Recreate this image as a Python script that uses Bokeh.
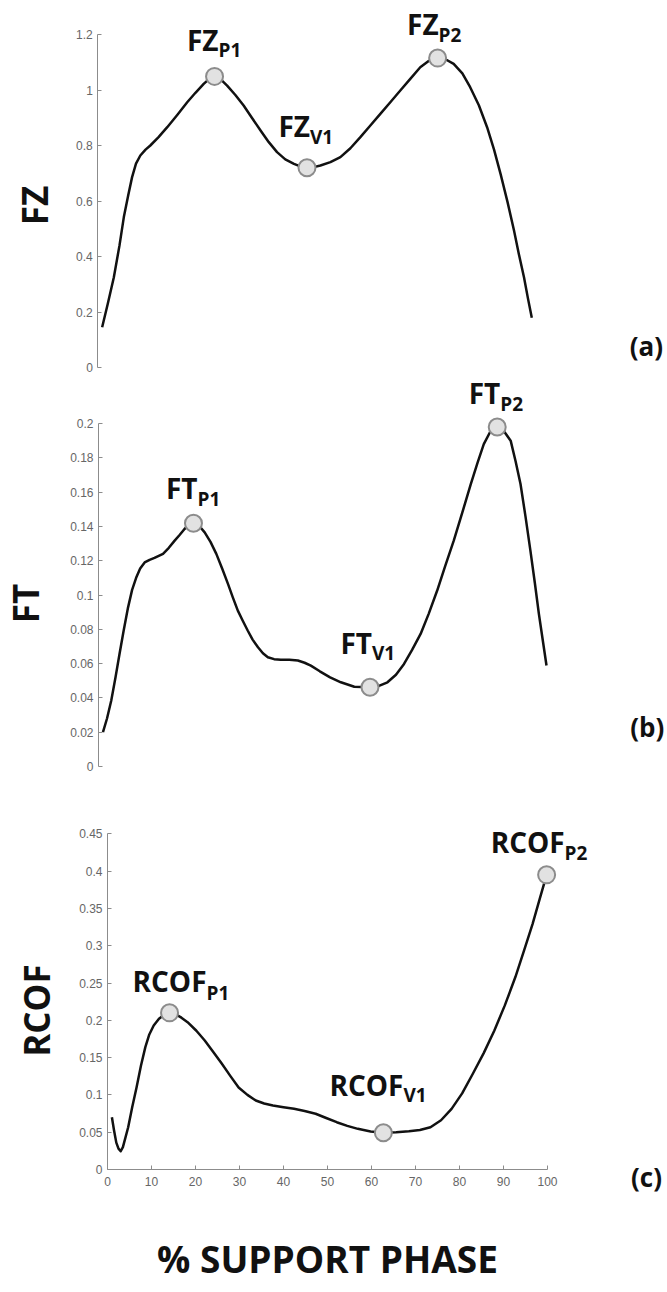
import math
from bokeh.plotting import figure
from bokeh.models import (Range1d, FixedTicker, CustomJSTickFormatter,
                          ColumnDataSource, LabelSet, Label)
from bokeh.layouts import column
from bokeh.core.properties import value
from bokeh.embed import file_html
from bokeh.resources import INLINE

# ---------------- data ----------------
# (a) FZ
fz_x = [1.0, 2.3, 3.7, 5.0, 6.0, 7.0, 7.9, 8.8, 9.8, 11.0, 12.1, 14.0, 16.0, 18.3, 20.6,
        22.5, 24.4, 25.8, 26.9, 28.2, 29.8, 31.7, 33.6, 35.5, 37.5, 39.4, 41.3, 43.2,
        45.2, 46.8, 48.2, 49.8, 51.3, 53.6, 55.9, 58.2, 60.5, 62.8, 65.1, 67.4, 69.7,
        72.0, 74.3, 76.3, 78.3, 80.2, 82.0, 84.0, 85.8, 87.8, 89.7, 91.3, 92.8, 94.4,
        95.9, 97.0, 98.2, 99.1, 100.0]
fz_y = [0.145, 0.23, 0.325, 0.44, 0.542, 0.62, 0.686, 0.735, 0.764, 0.785, 0.80, 0.83,
        0.866, 0.91, 0.956, 0.99, 1.022, 1.042, 1.049, 1.04, 1.016, 0.982, 0.944, 0.90,
        0.854, 0.812, 0.776, 0.75, 0.734, 0.724, 0.72, 0.722, 0.728, 0.74, 0.758, 0.79,
        0.83, 0.872, 0.914, 0.956, 0.998, 1.04, 1.082, 1.105, 1.115, 1.11, 1.094, 1.06,
        1.01, 0.945, 0.866, 0.785, 0.698, 0.597, 0.494, 0.41, 0.325, 0.25, 0.179]
fz_mark_x = [26.9, 48.2, 78.3]
fz_mark_y = [1.049, 0.72, 1.115]
fz_main = ["FZ", "FZ", "FZ"]
fz_sub = ["P1", "V1", "P2"]
fz_ticks = [0, 0.2, 0.4, 0.6, 0.8, 1, 1.2]

# (b) FT
ft_x = [1.0, 1.9, 2.85, 3.8, 4.7, 5.6, 6.6, 7.5, 8.4, 9.3, 10.3, 11.4, 12.5, 14.4, 15.7,
        17.0, 18.1, 19.2, 20.2, 21.2, 22.4, 23.7, 25.0, 26.3, 27.6, 28.9, 30.0, 31.1,
        32.2, 33.3, 34.4, 35.6, 36.7, 37.8, 39.2, 40.7, 42.6, 44.5, 46.0, 47.4, 49.4,
        51.7, 54.1, 57.1, 60.6, 62.6, 64.5, 66.4, 68.2, 70.0, 71.9, 73.7, 75.6, 77.4,
        79.3, 81.2, 83.1, 84.6, 86.0, 87.5, 89.0, 90.5, 92.0, 93.1, 94.2, 95.3, 96.4,
        97.4, 98.3, 99.2, 100.0]
ft_y = [0.020, 0.028, 0.0385, 0.052, 0.0657, 0.079, 0.0928, 0.103, 0.110, 0.1155, 0.119,
        0.1205, 0.1216, 0.124, 0.1275, 0.1317, 0.135, 0.1385, 0.141, 0.1418, 0.1405,
        0.1365, 0.131, 0.124, 0.1155, 0.1065, 0.0985, 0.0909, 0.085, 0.0793, 0.074,
        0.0695, 0.066, 0.0637, 0.0626, 0.0622, 0.0622, 0.0618, 0.0605, 0.0588, 0.0555,
        0.052, 0.0491, 0.0465, 0.0462, 0.047, 0.0491, 0.0535, 0.0598, 0.068, 0.0773,
        0.089, 0.1026, 0.117, 0.1317, 0.148, 0.1647, 0.177, 0.188, 0.1955, 0.198,
        0.1955, 0.190, 0.178, 0.1647, 0.146, 0.126, 0.107, 0.089, 0.073, 0.0589]
ft_mark_x = [21.2, 60.6, 89.0]
ft_mark_y = [0.1418, 0.0462, 0.198]
ft_main = ["FT", "FT", "FT"]
ft_sub = ["P1", "V1", "P2"]
ft_ticks = [0, 0.02, 0.04, 0.06, 0.08, 0.1, 0.12, 0.14, 0.16, 0.18, 0.2]

# (c) RCOF
rc_x = [1.0, 1.5, 2.0, 2.5, 3.0, 3.5, 4.0, 4.7, 5.6, 6.6, 7.6, 8.6, 9.5, 10.5, 11.7,
        12.9, 14.1, 15.5, 16.8, 18.2, 20.2, 22.1, 24.0, 26.0, 27.9, 29.8, 31.8, 33.7,
        35.6, 37.6, 40.0, 42.4, 44.8, 47.3, 49.7, 52.1, 54.5, 56.9, 59.8, 62.7, 65.6,
        68.5, 71.0, 73.4, 75.8, 78.2, 80.6, 83.0, 85.5, 87.9, 90.3, 92.7, 94.7, 96.6,
        98.2, 99.8]
rc_y = [0.070, 0.052, 0.036, 0.028, 0.0245, 0.030, 0.041, 0.0567, 0.083, 0.110, 0.139,
        0.164, 0.181, 0.193, 0.202, 0.2075, 0.210, 0.208, 0.2035, 0.1975, 0.186, 0.173,
        0.158, 0.1417, 0.1255, 0.110, 0.100, 0.0925, 0.0885, 0.0858, 0.0835, 0.0813,
        0.0785, 0.0747, 0.069, 0.0634, 0.0585, 0.0545, 0.051, 0.0492, 0.050, 0.0513,
        0.053, 0.0567, 0.066, 0.0813, 0.102, 0.128, 0.156, 0.186, 0.22, 0.258, 0.294,
        0.329, 0.362, 0.395]
rc_mark_x = [14.1, 62.7, 99.8]
rc_mark_y = [0.210, 0.0492, 0.395]
rc_main = ["RCOF", "RCOF", "RCOF"]
rc_sub = ["P1", "V1", "P2"]
rc_ticks = [0, 0.05, 0.1, 0.15, 0.2, 0.25, 0.3, 0.35, 0.4, 0.45]
x_ticks = [0, 10, 20, 30, 40, 50, 60, 70, 80, 90, 100]

# ---------------- style ----------------
AXIS_GRAY = "#8c8c8c"
TICK_TEXT = "#666666"
INK = "#111111"
LBL_FONT = "Open Sans"
W = 667


def style_axis(ax, ticks, bounds):
    ax.fixed_location = 0
    ax.ticker = FixedTicker(ticks=ticks)
    ax.formatter = CustomJSTickFormatter(code="return tick.toString();")
    ax.bounds = bounds
    ax.major_tick_in = 4
    ax.major_tick_out = 0
    ax.minor_tick_line_color = None
    ax.axis_line_color = AXIS_GRAY
    ax.major_tick_line_color = AXIS_GRAY
    ax.major_label_text_font = "Liberation Sans"
    ax.major_label_text_font_size = "12px"
    ax.major_label_text_color = TICK_TEXT


def panel(xs, ys, mx, my, main, sub, dx, dym, dys, ticks, ybounds,
          H, x0, kx, y0, ky, show_x):
    # frame covers the whole canvas; x0/y0 = pixel position of data origin
    p = figure(frame_width=W, frame_height=H,
               x_range=Range1d(-x0 / kx, (W - x0) / kx),
               y_range=Range1d(-(H - y0) / ky, y0 / ky),
               x_axis_location="below" if show_x else None,
               toolbar_location=None, output_backend="svg",
               min_border_left=0, min_border_right=0,
               min_border_top=0, min_border_bottom=0)
    p.grid.visible = False
    p.outline_line_color = None
    p.background_fill_color = "white"
    style_axis(p.yaxis[0], ticks, ybounds)
    p.yaxis[0].major_label_standoff = 5
    if show_x:
        style_axis(p.xaxis[0], x_ticks, (0, 100))
        p.xaxis[0].major_label_standoff = 7
    p.line(xs, ys, line_color=INK, line_width=2.5, line_join="round")
    src = ColumnDataSource(dict(x=mx, y=my, main=main, sub=sub,
                                dx=dx, dym=dym, dys=dys))
    p.scatter("x", "y", source=src, marker="circle", size=17,
              fill_color="#e2e2e2", line_color="#8c8c8c", line_width=2)
    p.add_layout(LabelSet(source=src, x="x", y="y", text="main",
                          x_offset="dx", y_offset="dym",
                          text_align="right", text_baseline="alphabetic",
                          text_font=value(LBL_FONT), text_font_style="bold",
                          text_font_size="28px", text_color=INK))
    p.add_layout(LabelSet(source=src, x="x", y="y", text="sub",
                          x_offset="dx", y_offset="dys",
                          text_align="left", text_baseline="alphabetic",
                          text_font=value(LBL_FONT), text_font_style="bold",
                          text_font_size="19px", text_color=INK))
    return p


def add_text(p, x, y, text, size, angle=0.0, align="center", baseline="middle"):
    p.add_layout(Label(x=x, y=y, text=text, angle=angle, text_align=align,
                       text_baseline=baseline, text_font=LBL_FONT,
                       text_font_style="bold", text_font_size=size,
                       text_color=INK))


pa = panel(fz_x, fz_y, fz_mark_x, fz_mark_y, fz_main, fz_sub,
           [4, 3, 1], [25, 31, 23], [19, 24, 16], fz_ticks, (0, 1.2),
           375, 97.3, 4.34, 367, 277.5, False)
add_text(pa, -14.6, 0.584, "FZ", "35px", angle=math.pi / 2)
add_text(pa, 126.4, 0.079, "(a)", "26px")

pb = panel(ft_x, ft_y, ft_mark_x, ft_mark_y, ft_main, ft_sub,
           [4, 2, 3], [24, 33, 23], [17, 27, 16], ft_ticks, (0, 0.2),
           415, 98, 4.48, 391, 1715, False)
add_text(pb, -16.2, 0.095, "FT", "35px", angle=math.pi / 2)
add_text(pb, 122.5, 0.0233, "(b)", "26px")

pc = panel(rc_x, rc_y, rc_mark_x, rc_mark_y, rc_main, rc_sub,
           [37, 20, 18], [21, 37, 22], [13, 31, 15], rc_ticks, (0, 0.45),
           502, 107, 4.4, 379, 746, True)
add_text(pc, -16.1, 0.213, "RCOF", "35px", angle=math.pi / 2)
add_text(pc, 122.5, -0.0107, "(c)", "26px")
add_text(pc, 50, -0.1193, "% SUPPORT PHASE", "37px")

layout = column(pa, pb, pc)
open("out.html", "w").write(file_html(layout, INLINE))
